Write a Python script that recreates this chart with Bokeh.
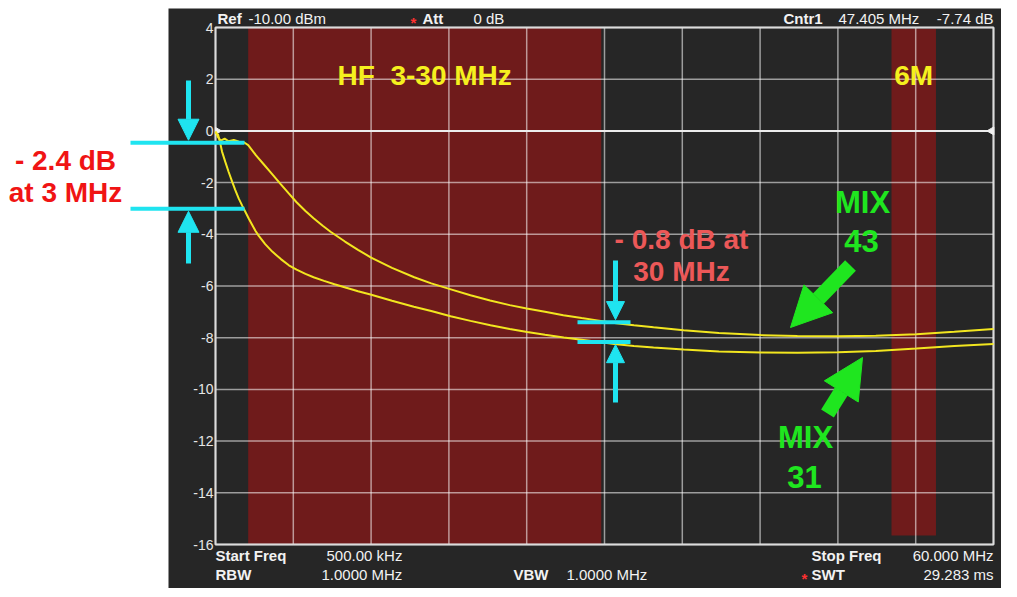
import numpy as np
from bokeh.plotting import figure
from bokeh.models import FixedTicker, Label, Arrow, NormalHead, Range1d
from bokeh.embed import file_html
from bokeh.resources import INLINE

# ---------------- data ----------------
start_freq_mhz = 0.5
stop_freq_mhz = 60.0
db_min, db_max = -16.0, 4.0

mix43_freq = [0.5, 0.7, 0.9, 1.2, 1.5, 1.9, 2.3, 2.7, 3.0, 3.6, 4.2, 4.8, 5.5, 6.1,
              6.7, 7.4, 8.0, 8.7, 9.3, 10.4, 11.4, 12.4, 14.0, 15.7, 17.0, 18.5,
              20.0, 21.5, 23.0, 24.3, 25.7, 27.1, 28.5, 29.7, 31.0, 32.5, 34.0,
              36.3, 39.0, 42.2, 45.0, 48.1, 51.0, 54.1, 57.0, 60.0]
mix43_db = [-0.02, -0.25, -0.38, -0.30, -0.40, -0.35, -0.42, -0.45, -0.55, -0.95,
            -1.30, -1.65, -2.07, -2.42, -2.76, -3.11, -3.38, -3.67, -3.90, -4.28,
            -4.60, -4.90, -5.30, -5.66, -5.90, -6.13, -6.36, -6.56, -6.74, -6.87,
            -7.00, -7.13, -7.24, -7.33, -7.43, -7.52, -7.60, -7.71, -7.82, -7.90,
            -7.93, -7.94, -7.92, -7.87, -7.77, -7.66]

mix31_freq = [0.5, 0.7, 0.85, 1.0, 1.25, 1.5, 1.78, 2.0, 2.28, 2.55, 2.79, 3.05,
              3.31, 3.55, 3.81, 4.3, 4.84, 5.5, 6.11, 6.7, 7.38, 8.0, 8.8, 9.6,
              10.5, 11.4, 12.35, 14.0, 15.67, 17.0, 18.48, 20.0, 21.53, 23.0,
              24.34, 25.7, 27.14, 28.5, 29.69, 31.0, 32.5, 34.0, 36.3, 39.0, 42.2,
              45.0, 48.1, 51.0, 54.1, 57.0, 60.0]
mix31_db = [-0.05, -0.15, -0.45, -0.80, -1.20, -1.58, -1.97, -2.27, -2.62, -2.90,
            -3.14, -3.40, -3.64, -3.86, -4.06, -4.38, -4.67, -4.96, -5.20, -5.37,
            -5.53, -5.66, -5.80, -5.93, -6.07, -6.20, -6.33, -6.57, -6.80, -6.97,
            -7.17, -7.35, -7.52, -7.66, -7.78, -7.89, -7.99, -8.08, -8.16, -8.24,
            -8.32, -8.38, -8.46, -8.53, -8.57, -8.58, -8.56, -8.51, -8.42, -8.32,
            -8.24]

band_labels = ["HF\u00a0 3-30 MHz", "6M"]
band_start = [3.0, 52.2]
band_end = [30.0, 55.6]
band_top = [4.0, 3.95]
band_bottom = [-16.0, -15.65]

y_ticks = [-16, -14, -12, -10, -8, -6, -4, -2, 0, 2, 4]
x_grid = [0.5, 6.45, 12.4, 18.35, 24.3, 30.25, 36.2, 42.15, 48.1, 54.05, 60.0]

marker_3mhz_db = [-0.46, -3.01]    # MIX 43 / MIX 31 near 3 MHz
marker_30mhz_db = [-7.40, -8.17]   # MIX 43 / MIX 31 near 30 MHz

# ---------------- layout (pixels) ----------------
W, H = 1001, 588
PL, PR, PT, PB = 215, 993, 27, 544          # analyzer graticule
PANEL_L, PANEL_T = 168, 8                    # dark analyzer screen

sx = (stop_freq_mhz - start_freq_mhz) / (PR - PL)
sy = (db_max - db_min) / (PB - PT)
x_lo = start_freq_mhz - PL * sx
x_hi = stop_freq_mhz + (W - PR) * sx
y_hi = db_max + PT * sy
y_lo = db_min - (H - PB) * sy


def X(px):
    return start_freq_mhz + (px - PL) * sx


def Y(py):
    return db_max - (py - PT) * sy


PANEL = "#262626"
BAND = "#6f1b1b"
YELLOW = "#f2e61f"
CYAN = "#1fe4f0"
GREEN = "#1fe61f"
RED = "#f01414"
SALMON = "#ec5858"
FONT = "Liberation Sans"

p = figure(width=W, height=H, x_range=Range1d(x_lo, x_hi), y_range=Range1d(y_lo, y_hi),
           output_backend="svg", toolbar_location=None,
           min_border=0, min_border_left=0, min_border_right=0,
           min_border_top=0, min_border_bottom=0,
           background_fill_color="white", border_fill_color="white",
           outline_line_color=None)

p.xaxis.visible = False
p.xgrid.visible = False
p.ygrid.visible = False

ax = p.yaxis[0]
ax.fixed_location = start_freq_mhz
ax.ticker = FixedTicker(ticks=y_ticks)
ax.major_label_overrides = {t: str(t) for t in y_ticks}
ax.axis_line_color = None
ax.major_tick_line_color = None
ax.minor_tick_line_color = None
ax.major_tick_in = 0
ax.major_tick_out = 0
ax.major_label_standoff = 2
ax.major_label_text_color = "#e6e6e6"
ax.major_label_text_font = FONT
ax.major_label_text_font_size = "14px"

# dark analyzer screen
p.quad(left=X(PANEL_L), right=x_hi, top=Y(PANEL_T), bottom=y_lo,
       fill_color=PANEL, line_color=None, level="underlay")

# frequency bands
p.quad(left=band_start, right=band_end, top=band_top, bottom=band_bottom,
       fill_color=BAND, line_color=None, level="underlay")

# graticule
p.segment(x0=x_grid, y0=[db_min] * len(x_grid), x1=x_grid, y1=[db_max] * len(x_grid),
          line_color="#ffffff", line_alpha=0.55, line_width=1.5)
p.segment(x0=[start_freq_mhz] * len(y_ticks), y0=y_ticks, x1=[stop_freq_mhz] * len(y_ticks),
          y1=y_ticks, line_color="#ffffff", line_alpha=0.55, line_width=1.5)
p.quad(left=start_freq_mhz, right=stop_freq_mhz, top=db_max, bottom=db_min,
       fill_alpha=0, line_color="#dcdcdc", line_width=2)

# reference level line with its end markers
p.segment(x0=[start_freq_mhz], y0=[0], x1=[stop_freq_mhz], y1=[0],
          line_color="#ececec", line_width=2)
p.scatter(x=[stop_freq_mhz - 0.15], y=[0], marker="triangle", angle=np.pi / 2, size=8,
          fill_color="#f0f0f0", line_color="#f0f0f0")
p.scatter(x=[start_freq_mhz + 0.15], y=[0], marker="triangle", angle=-np.pi / 2, size=7,
          fill_color="#f0f0f0", line_color="#f0f0f0")

# traces
p.line(mix43_freq, mix43_db, line_color=YELLOW, line_width=2)
p.line(mix31_freq, mix31_db, line_color=YELLOW, line_width=2)


def lab(x, y, text, size="15px", color="#f2f2f2", bold=False, align="left"):
    p.add_layout(Label(x=x, y=y, text=text, text_font=FONT, text_font_size=size,
                       text_color=color, text_align=align, text_baseline="middle",
                       text_font_style="bold" if bold else "normal"))


# header / footer of the analyzer screen
HY, F1, F2 = Y(18), Y(555), Y(574)
lab(X(217), HY, "Ref", bold=True)
lab(X(248), HY, "-10.00 dBm")
lab(X(410), Y(22), "*", color="#ff3030", bold=True)
lab(X(422), HY, "Att", bold=True)
lab(X(473), HY, "0 dB")
lab(X(783), HY, "Cntr1", bold=True)
lab(X(838), HY, "47.405 MHz")
lab(X(993), HY, "-7.74 dB", align="right")

lab(X(215), F1, "Start Freq", bold=True)
lab(X(326), F1, "500.00 kHz")
lab(X(811), F1, "Stop Freq", bold=True)
lab(X(993), F1, "60.000 MHz", align="right")
lab(X(215), F2, "RBW", bold=True)
lab(X(321), F2, "1.0000 MHz")
lab(X(513), F2, "VBW", bold=True)
lab(X(566), F2, "1.0000 MHz")
lab(X(801), Y(578), "*", color="#ff3030", bold=True)
lab(X(811), F2, "SWT", bold=True)
lab(X(993), F2, "29.283 ms", align="right")

# band labels
for name, s, e in zip(band_labels, band_start, band_end):
    lab((s + e) / 2, Y(75), name, size="28px", color="#f5f01e", bold=True, align="center")


def seg(x0, y0, x1, y1, color, width, head=None):
    p.add_layout(Arrow(x_start=x0, y_start=y0, x_end=x1, y_end=y1, line_color=color,
                       line_width=width, end=head, start=None))


def head(size, color):
    return NormalHead(size=size, fill_color=color, line_color=color, line_width=1)


# 3 MHz markers
for lvl in marker_3mhz_db:
    seg(X(130), lvl, X(244), lvl, CYAN, 4)
seg(X(188), Y(80), X(188), marker_3mhz_db[0] + 0.1, CYAN, 5, head(21, CYAN))
seg(X(188), Y(263), X(188), marker_3mhz_db[1] - 0.1, CYAN, 5, head(21, CYAN))
lab(X(65), Y(160), "- 2.4 dB", size="28px", color=RED, bold=True, align="center")
lab(X(65), Y(192), "at 3 MHz", size="28px", color=RED, bold=True, align="center")

# 30 MHz markers
for lvl in marker_30mhz_db:
    seg(X(577), lvl, X(630), lvl, CYAN, 4)
seg(X(615), Y(260), X(615), marker_30mhz_db[0] + 0.1, CYAN, 5, head(18, CYAN))
seg(X(615), Y(402), X(615), marker_30mhz_db[1] - 0.1, CYAN, 5, head(18, CYAN))
lab(X(681), Y(239), "- 0.8 dB at", size="28px", color=SALMON, bold=True, align="center")
lab(X(681), Y(271), "30 MHz", size="28px", color=SALMON, bold=True, align="center")

# trace labels
lab(X(862), Y(202), "MIX", size="31px", color=GREEN, bold=True, align="center")
lab(X(861), Y(240), "43", size="31px", color=GREEN, bold=True, align="center")
seg(X(850), Y(265), X(790), Y(327), GREEN, 15, head(40, GREEN))
lab(X(805), Y(437), "MIX", size="31px", color=GREEN, bold=True, align="center")
lab(X(804), Y(476), "31", size="31px", color=GREEN, bold=True, align="center")
seg(X(827), Y(413), X(862), Y(357), GREEN, 15, head(40, GREEN))

open("out.html", "w").write(file_html(p, INLINE))
